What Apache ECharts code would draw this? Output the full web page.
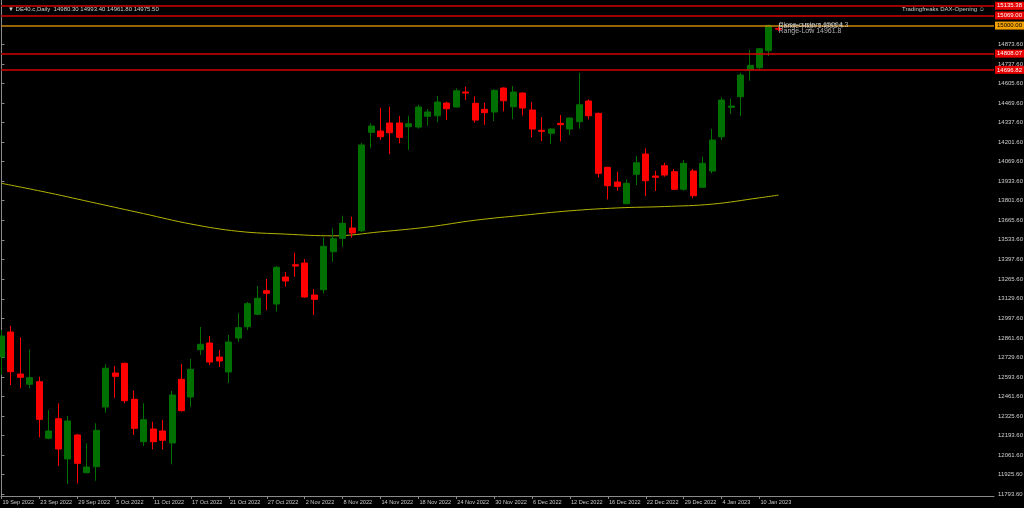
<!DOCTYPE html>
<html><head><meta charset="utf-8">
<script src="https://cdn.jsdelivr.net/npm/echarts@6/dist/echarts.min.js"></script>
<style>html,body{margin:0;padding:0;background:#000;}#c{width:1024px;height:508px;}</style>
</head><body><div id="c"></div>
<script>
const dates = ['19 Sep 2022','20 Sep 2022','21 Sep 2022','22 Sep 2022','23 Sep 2022','26 Sep 2022','27 Sep 2022','28 Sep 2022','29 Sep 2022','30 Sep 2022',
 '3 Oct 2022','4 Oct 2022','5 Oct 2022','6 Oct 2022','7 Oct 2022','10 Oct 2022','11 Oct 2022','12 Oct 2022','13 Oct 2022','14 Oct 2022',
 '17 Oct 2022','18 Oct 2022','19 Oct 2022','20 Oct 2022','21 Oct 2022','24 Oct 2022','25 Oct 2022','26 Oct 2022','27 Oct 2022','28 Oct 2022',
 '31 Oct 2022','1 Nov 2022','2 Nov 2022','3 Nov 2022','4 Nov 2022','7 Nov 2022','8 Nov 2022','9 Nov 2022','10 Nov 2022','11 Nov 2022',
 '14 Nov 2022','15 Nov 2022','16 Nov 2022','17 Nov 2022','18 Nov 2022','21 Nov 2022','22 Nov 2022','23 Nov 2022','24 Nov 2022','25 Nov 2022',
 '28 Nov 2022','29 Nov 2022','30 Nov 2022','1 Dec 2022','2 Dec 2022','5 Dec 2022','6 Dec 2022','7 Dec 2022','8 Dec 2022','9 Dec 2022',
 '12 Dec 2022','13 Dec 2022','14 Dec 2022','15 Dec 2022','16 Dec 2022','19 Dec 2022','20 Dec 2022','21 Dec 2022','22 Dec 2022','23 Dec 2022',
 '27 Dec 2022','28 Dec 2022','29 Dec 2022','30 Dec 2022','2 Jan 2023','3 Jan 2023','4 Jan 2023','5 Jan 2023','6 Jan 2023','9 Jan 2023',
 '10 Jan 2023','11 Jan 2023','12 Jan 2023'];
const opens = [12731.4,12902.5,12615.0,12544.6,12562.3,12175.0,12309.1,12033.3,12197.6,11939.5,
 11980.6,12389.2,12621.9,12688.3,12441.9,12151.7,12238.6,12224.9,12142.8,12578.8,
 12457.6,12781.4,12827,12731,12629,12861,12938.7,13023.6,13185.2,13094.1,
 13278.9,13363.1,13374.7,13155.7,13192.0,13452.1,13543.8,13614.3,13595.8,14269.2,
 14278.1,14332.9,14332.9,14307.6,14305.5,14378.7,14382.8,14469.8,14442.4,14545.1,
 14467.7,14426.6,14408.2,14572.4,14444.4,14538.2,14421.9,14282.9,14262.4,14330.8,
 14291.8,14341.8,14483.5,14399.3,14029.7,13929.1,13780.6,13981.8,14120.7,13970.2,
 14040.6,13999.6,13879.1,14004.4,13892.8,14004.4,14239.1,14440.3,14512.9,14695.6,
 14711.4,14827.7,14980.3];
const closes = [12875.1,12630.8,12592.5,12589.7,12305.0,12224.9,12101.7,12293.4,12003.9,11978.6,
 12229.7,12654.1,12599.3,12432.3,12243.4,12302.3,12151.7,12161.3,12471.3,12363.9,
 12647.2,12818.3,12697,12704,12834,12931.9,13096.2,13133.1,13167.4,13345.3,
 13251.5,13354.2,13142.0,13126.3,13489.0,13541.0,13646.4,13580.0,14182.3,14312.4,
 14239.1,14266.5,14235.0,14328.1,14442.4,14408.2,14476.6,14430.8,14553.9,14538.2,
 14353.4,14403.4,14556.7,14485.5,14545.1,14435.5,14291.8,14276.1,14291.8,14321.3,
 14367.1,14458.1,14382.8,13988.6,13903.8,13899.7,13920.2,14061.2,13938.0,13961.3,
 13977.0,13879.1,14057.1,13835.3,14057.1,14216.5,14490.3,14449.2,14661.4,14727.8,
 14841.4,15001.5,14975.5];
const highs = [12916.2,12945.6,12866.2,12784.1,12596.6,12368.7,12414.5,12327.6,12205,12140.7,
 12277.6,12681.4,12669.8,12693,12500.8,12414.5,12288.6,12300.2,12498.7,12683.5,
 12717.7,12936.7,12875,12779,12882,13030.5,13107.8,13217.3,13265.2,13354.2,
 13313.1,13445.2,13402.1,13196.8,13550.6,13612.2,13698.5,13691.6,14196,14330.8,
 14437.6,14444.4,14380.8,14382.8,14458.1,14428.7,14517.7,14478.7,14570.4,14581.3,
 14515.6,14471.8,14563.5,14577,14586.1,14542,14476.6,14374.0,14296,14387.6,
 14370,14677.1,14495.1,14403,14033,13999.6,13947.6,14107.0,14159.7,14006.4,
 14061.2,14018.1,14079.7,14018.1,14102.2,14291.8,14508.8,14499.2,14677.1,14832.5,
 14846,15005.7,14993.4];
const lows = [12608.2,12539.8,12517.2,12517.2,12181.8,12168,11985.4,11862.2,11867.0,11935,
 11884.8,12350.2,12452.8,12414.5,12197.6,12122.3,12099.7,12099.7,11997.0,12358,
 12391.2,12745.1,12677,12663,12553,12834,12916.2,13018,13053.1,13041.4,
 13212.5,13281.0,13137.2,13018.8,13167.4,13383.6,13486.3,13547.9,13586.9,14163.8,
 14216.5,14118.7,14194.0,14148.1,14293.9,14314.4,14337.7,14353.4,14439,14490.3,
 14334.9,14321.3,14346.6,14413.0,14360.3,14385.6,14235.0,14209.7,14189.2,14207.6,
 14250.8,14293.9,14358.2,13961.3,13810.7,13869.5,13777,13908.6,13833.3,13867.5,
 13965.4,13876,13869.5,13817.5,13890,13988.6,14216.5,14394.5,14380.8,14622.4,
 14695.6,14791.4,14961.8];
const maIdx = [0,5,10,15,20,25,30,35,40,45,50,55,60,65,70,75,80,82];
const maVal = [13920.2,13855.2,13784.0,13712.8,13641.6,13591.7,13572.5,13560.9,13588.3,13621.1,13667.6,13701.2,13732.0,13751.8,13761.4,13777.8,13821.0,13839.4];
const priceTicks = [14873.6,14737.6,14605.6,14469.6,14337.6,14201.6,14069.6,13933.6,13801.6,13665.6,13533.6,13397.6,13265.6,13129.6,12997.6,12861.6,12729.6,12593.6,12461.6,12325.6,12193.6,12061.6,11925.6,11793.6];
const dateTickIdx = [0,4,8,12,16,20,24,28,32,36,40,44,48,52,56,60,64,68,72,76,80];
const redLevels = [15135.38,15069.00,14808.07,14696.82];
const orangeLevel = 15000.00;
const bidLevel = 14975.50;
const notePrices = [15004.3,14993.4,14961.8];
const noteTexts = ['Close-custom 15004.3','Range-High 14993.4','Range-Low 14961.8'];
const headerText = '▼ DE40.c,Daily  14980.30 14993.40 14961.80 14975.50';
const signText = 'Tradingfreaks DAX-Opening ☺';

const FONT = 'Liberation Sans';
const candles = dates.map((d,i)=>[i, opens[i], closes[i], lows[i], highs[i]]);
const lastIdx = dates.length - 1;

const chart = echarts.init(document.getElementById('c'), null, {renderer:'canvas'});
chart.setOption({
  backgroundColor:'#000000',
  animation:false,
  title:[
    {text:headerText, left:3, top:1, textStyle:{color:'#d0d0d0', fontSize:6, fontWeight:'normal', fontFamily:FONT}},
    {text:signText, right:34, top:1, textStyle:{color:'#c8c8c8', fontSize:6, fontWeight:'normal', fontFamily:FONT}}
  ],
  grid:{left:1, right:30, top:0, bottom:12, outerBoundsMode:'none'},
  xAxis:{
    type:'value', min:-0.05, max:104.75,
    axisLine:{show:true, onZero:false, lineStyle:{color:'#8a8a8a', width:1}},
    axisTick:{show:true, customValues:dateTickIdx, length:3, lineStyle:{color:'#8a8a8a'}},
    axisLabel:{show:true, customValues:dateTickIdx, formatter:v=>dates[Math.round(v)], align:'left', margin:3,
      color:'#c8c8c8', fontSize:5.6, fontFamily:FONT, padding:[0,0,0,1]},
    splitLine:{show:false}
  },
  yAxis:[
    {type:'value', position:'right', min:11780, max:15175, scale:true,
     axisLine:{show:true, lineStyle:{color:'#8a8a8a', width:1}},
     axisTick:{show:true, customValues:priceTicks, length:3, lineStyle:{color:'#8a8a8a'}},
     axisLabel:{show:true, customValues:priceTicks, formatter:v=>v.toFixed(2), margin:4,
       color:'#d0d0d0', fontSize:6, fontFamily:FONT},
     splitLine:{show:false}},
    {type:'value', position:'left', min:11780, max:15175,
     axisLine:{show:true, lineStyle:{color:'#8a8a8a', width:1}},
     axisTick:{show:false}, axisLabel:{show:false}, splitLine:{show:false}}
  ],
  series:[
    {type:'line', name:'MA', data:maIdx.map((x,k)=>[x, maVal[k]]), smooth:0.4, showSymbol:false,
     lineStyle:{color:'#b4b400', width:1}, z:1},
    {type:'candlestick', name:'DE40', data:candles, encode:{x:0, y:[1,2,3,4]}, barWidth:6.5,
     itemStyle:{color:'#007000', color0:'#ff0000', borderColor:'#007000', borderColor0:'#ff0000', borderWidth:1},
     z:3,
     markLine:{
       symbol:'none', silent:true, animation:false, precision:2,
       label:{show:true, position:'end', distance:1, fontSize:6, fontFamily:FONT, padding:[1,2,1,2],
         formatter:p=>Number(p.value).toFixed(2)},
       data:[
         {yAxis:bidLevel, lineStyle:{opacity:0}, label:{backgroundColor:'#ffffff', color:'#000000'}},
         ...redLevels.map(v=>({yAxis:v, lineStyle:{color:'#d40000', width:1.5, type:'solid'}, label:{backgroundColor:'#e80000', color:'#ffffff'}})),
         {yAxis:orangeLevel, lineStyle:{color:'#c8860a', width:1.5, type:'solid'}, label:{backgroundColor:'#f0a000', color:'#000000'}}
       ]
     }},
    {type:'scatter', name:'notes', data:notePrices.map((p,k)=>[lastIdx, p, noteTexts[k]]), symbolSize:0, z:5,
     label:{show:true, position:'right', distance:0, formatter:p=>p.data[2], color:'#d8d8d8', fontSize:7, fontFamily:FONT}}
  ]
});
</script></body></html>
